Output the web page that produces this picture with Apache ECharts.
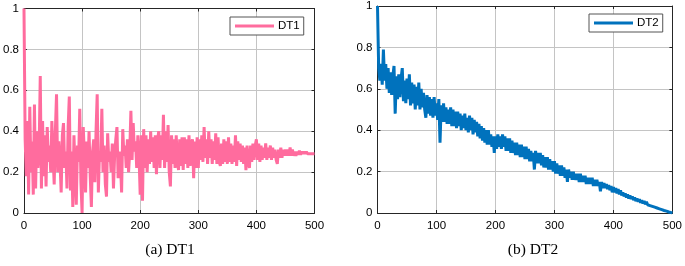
<!DOCTYPE html>
<html>
<head>
<meta charset="utf-8">
<script src="https://cdn.jsdelivr.net/npm/echarts@6/dist/echarts.min.js"></script>
<style>
html,body{margin:0;padding:0;background:#fff;}
#c{width:685px;height:266px;}
</style>
</head>
<body>
<div id="c"></div>
<script>
// x step between samples
const xStep = 2;
const xTicks = [0, 100, 200, 300, 400, 500];
const yTicks = [0, 0.2, 0.4, 0.6, 0.8, 1];
const captions = ['(a) DT1', '(b) DT2'];
const seriesNames = ['DT1', 'DT2'];

const dt1 = [
1.00,0.36,0.18,0.45,0.09,0.52,0.20,0.35,0.09,0.53,
0.12,0.40,0.22,0.30,0.67,0.12,0.45,0.18,0.38,0.13,
0.42,0.25,0.33,0.20,0.45,0.28,0.14,0.40,0.58,0.20,
0.35,0.25,0.10,0.38,0.44,0.22,0.30,0.12,0.42,0.57,
0.11,0.30,0.03,0.38,0.20,0.04,0.33,0.25,0.51,0.15,
0.00,0.42,0.28,0.10,0.35,0.22,0.40,0.18,0.03,0.30,
0.36,0.15,0.40,0.58,0.10,0.30,0.25,0.51,0.20,0.33,
0.14,0.08,0.39,0.25,0.30,0.20,0.34,0.12,0.28,0.36,
0.42,0.17,0.30,0.25,0.10,0.41,0.28,0.33,0.22,0.36,
0.20,0.30,0.50,0.26,0.44,0.30,0.35,0.22,0.38,0.28,
0.09,0.38,0.06,0.41,0.22,0.38,0.20,0.36,0.24,0.40,
0.25,0.37,0.22,0.38,0.19,0.36,0.40,0.22,0.38,0.26,
0.48,0.22,0.40,0.25,0.43,0.20,0.13,0.38,0.24,0.36,
0.22,0.38,0.25,0.21,0.36,0.23,0.37,0.21,0.37,0.24,
0.36,0.22,0.38,0.23,0.34,0.36,0.17,0.35,0.22,0.37,
0.22,0.36,0.26,0.38,0.25,0.42,0.27,0.36,0.24,0.40,
0.27,0.36,0.24,0.35,0.26,0.39,0.24,0.37,0.25,0.23,
0.34,0.24,0.36,0.25,0.35,0.24,0.37,0.25,0.34,0.24,
0.33,0.25,0.38,0.23,0.35,0.26,0.34,0.25,0.33,0.24,
0.32,0.21,0.33,0.25,0.22,0.33,0.25,0.34,0.26,0.33,
0.36,0.26,0.34,0.25,0.33,0.26,0.32,0.27,0.34,0.26,
0.32,0.27,0.33,0.26,0.32,0.27,0.31,0.26,0.24,0.31,
0.27,0.32,0.27,0.31,0.28,0.31,0.28,0.31,0.28,0.32,
0.28,0.31,0.28,0.30,0.28,0.30,0.285,0.305,0.285,0.30,
0.29,0.30,0.29,0.30,0.29,0.295,0.29,0.295,0.29,0.295,
0.29
];

const dt2 = [
1.00,0.70,0.64,0.72,0.62,0.79,0.64,0.72,0.60,0.70,
0.58,0.68,0.57,0.66,0.71,0.48,0.66,0.55,0.67,0.56,
0.65,0.70,0.54,0.64,0.53,0.65,0.55,0.67,0.52,0.63,
0.53,0.62,0.50,0.61,0.52,0.63,0.50,0.60,0.51,0.58,
0.50,0.46,0.57,0.48,0.56,0.47,0.55,0.46,0.56,0.47,
0.53,0.45,0.55,0.34,0.52,0.44,0.53,0.44,0.51,0.43,
0.50,0.43,0.51,0.42,0.50,0.42,0.49,0.41,0.49,0.42,
0.48,0.40,0.47,0.41,0.48,0.40,0.46,0.39,0.47,0.40,
0.46,0.38,0.45,0.39,0.44,0.37,0.43,0.36,0.42,0.35,
0.41,0.34,0.40,0.33,0.40,0.33,0.38,0.32,0.37,0.29,
0.37,0.31,0.38,0.32,0.37,0.31,0.38,0.32,0.37,0.30,
0.36,0.30,0.36,0.29,0.35,0.29,0.34,0.28,0.34,0.28,
0.33,0.27,0.33,0.27,0.32,0.26,0.32,0.26,0.31,0.25,
0.30,0.25,0.29,0.21,0.30,0.24,0.29,0.24,0.29,0.23,
0.28,0.22,0.27,0.22,0.27,0.21,0.26,0.21,0.25,0.20,
0.25,0.19,0.24,0.19,0.23,0.18,0.23,0.18,0.22,0.17,
0.21,0.15,0.21,0.17,0.20,0.16,0.20,0.16,0.19,0.16,
0.19,0.15,0.19,0.15,0.18,0.15,0.18,0.14,0.17,0.14,
0.17,0.14,0.17,0.13,0.16,0.13,0.16,0.13,0.15,0.105,
0.15,0.12,0.145,0.12,0.14,0.115,0.135,0.11,0.13,0.10,
0.125,0.10,0.12,0.095,0.115,0.09,0.11,0.085,0.10,0.08,
0.095,0.075,0.09,0.07,0.085,0.068,0.08,0.062,0.075,0.058,
0.07,0.055,0.066,0.05,0.062,0.046,0.058,0.042,0.054,0.04,
0.049,0.036,0.044,0.032,0.04,0.028,0.036,0.024,0.031,0.02,
0.026,0.016,0.022,0.012,0.017,0.009,0.012,0.005,0.006,0.002,
0.0
];

const colors = ['#ff6c9e', '#0072bd'];

function pairs(arr){ return arr.map((v,i)=>[i*xStep, v]); }

const grids = [
  {left: 22, top: 8.5, width: 292.5, height: 204.5},
  {left: 377.5, top: 5.5, width: 295.5, height: 207.5}
];

const chart = echarts.init(document.getElementById('c'), null, {renderer:'canvas'});
const axisCol = '#262626';
const xMin = xTicks[0], xMax = xTicks[xTicks.length-1], xInt = xTicks[1]-xTicks[0];
const yMin = yTicks[0], yMax = yTicks[yTicks.length-1], yInt = yTicks[1]-yTicks[0];

const xAxes = [], yAxes = [];
grids.forEach((g, gi) => {
  xAxes.push({
    gridIndex: gi, type: 'value', min: xMin, max: xMax, interval: xInt, position: 'bottom',
    axisLine: {show: true, onZero: false, lineStyle: {color: axisCol, width: 1}},
    axisTick: {show: true, inside: true, length: 3, lineStyle: {color: axisCol}},
    axisLabel: {color: '#000', fontSize: 11.5, fontFamily: 'Liberation Sans, Arial', margin: 7},
    splitLine: {show: true, lineStyle: {color: '#c4c4c4', width: 1}}
  });
  xAxes.push({
    gridIndex: gi, type: 'value', min: xMin, max: xMax, interval: xInt, position: 'top',
    axisLine: {show: true, onZero: false, lineStyle: {color: axisCol, width: 1}},
    axisTick: {show: true, inside: true, length: 3, lineStyle: {color: axisCol}},
    axisLabel: {show: false}, splitLine: {show: false}
  });
  yAxes.push({
    gridIndex: gi, type: 'value', min: yMin, max: yMax, interval: yInt, position: 'left',
    axisLine: {show: true, onZero: false, lineStyle: {color: axisCol, width: 1}},
    axisTick: {show: true, inside: true, length: 3, lineStyle: {color: axisCol}},
    axisLabel: {color: '#000', fontSize: 11.5, fontFamily: 'Liberation Sans, Arial', margin: 5},
    splitLine: {show: true, lineStyle: {color: '#c4c4c4', width: 1}}
  });
  yAxes.push({
    gridIndex: gi, type: 'value', min: yMin, max: yMax, interval: yInt, position: 'right',
    axisLine: {show: true, onZero: false, lineStyle: {color: axisCol, width: 1}},
    axisTick: {show: true, inside: true, length: 3, lineStyle: {color: axisCol}},
    axisLabel: {show: false}, splitLine: {show: false}
  });
});

const legendPos = [{left: 230, top: 17}, {left: 589, top: 14}];

chart.setOption({
  animation: false,
  grid: grids,
  xAxis: xAxes,
  yAxis: yAxes,
  legend: seriesNames.map((n, i) => ({
    data: [n], left: legendPos[i].left, top: legendPos[i].top,
    orient: 'horizontal', icon: 'rect', itemWidth: 39, itemHeight: 3,
    padding: [3, 4, 3, 5], borderColor: '#555', borderWidth: 1, backgroundColor: '#fff',
    textStyle: {color: '#000', fontSize: 11.5, fontFamily: 'Liberation Sans, Arial', padding: [0,0,0,-1]}
  })),
  series: [
    {name: seriesNames[0], type: 'line', xAxisIndex: 0, yAxisIndex: 0, data: pairs(dt1),
     showSymbol: false, symbol: 'none', color: colors[0], lineStyle: {width: 3, color: colors[0]}, z: 3},
    {name: seriesNames[1], type: 'line', xAxisIndex: 2, yAxisIndex: 2, data: pairs(dt2),
     showSymbol: false, symbol: 'none', color: colors[1], lineStyle: {width: 3, color: colors[1]}, z: 3}
  ],
  graphic: [
    {type: 'text', x: 170, y: 250, style: {text: captions[0], font: '15.5px "Liberation Serif", "Times New Roman", serif', fill: '#000', align: 'center', verticalAlign: 'middle'}},
    {type: 'text', x: 533, y: 250, style: {text: captions[1], font: '15.5px "Liberation Serif", "Times New Roman", serif', fill: '#000', align: 'center', verticalAlign: 'middle'}}
  ]
});
</script>
</body>
</html>
